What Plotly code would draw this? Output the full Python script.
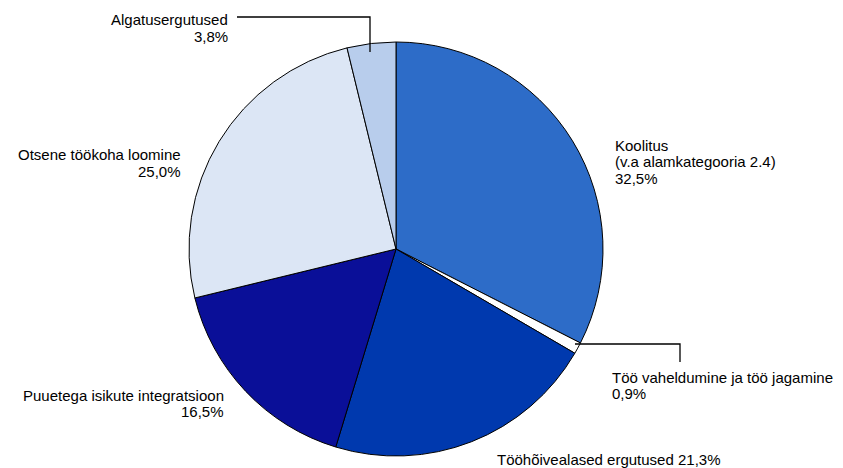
import plotly.graph_objects as go

W, H = 843, 468

categories = ["Koolitus<br>(v.a alamkategooria 2.4)", "Töö vaheldumine ja töö jagamine",
              "Tööhõivealased ergutused", "Puuetega isikute integratsioon",
              "Otsene töökoha loomine", "Algatusergutused"]
values = [32.5, 0.9, 21.3, 16.5, 25.0, 3.8]
colors = ["#2D6CC8", "#FFFFFF", "#0039AE", "#0A0F98", "#DCE6F5", "#B8CDEC"]

def px(x):
    return x / W

def py(y):
    return 1 - y / H

cx, cy, r = 396, 249, 207

fig = go.Figure(go.Pie(
    labels=categories, values=values, sort=False, direction="clockwise", rotation=0,
    marker=dict(colors=colors, line=dict(color="#000000", width=1)),
    textinfo="none", hoverinfo="label+percent", showlegend=False,
    domain=dict(x=[px(cx - r), px(cx + r)], y=[py(cy + r), py(cy - r)]),
))

def fmt(v):
    return f"{v:.1f}".replace(".", ",") + "%"

# label placements (pixel): x, first-line y, anchor, lines
label_pos = [
    (613, 145, "left", categories[0].split("<br>") + [fmt(values[0])]),
    (610, 377, "left", [categories[1], fmt(values[1])]),
    (495, 459, "left", [f"{categories[2]} {fmt(values[2])}"]),
    (226, 395, "right", [categories[3], fmt(values[3])]),
    (183, 155, "right", [categories[4], fmt(values[4])]),
    (230, 20, "right", [categories[5], fmt(values[5])]),
]
line_gap = 16.5

annotations = []
for x, y, anc, lines in label_pos:
    for i, ln in enumerate(lines):
        annotations.append(dict(
            x=px(x), y=py(y + i * line_gap), xref="paper", yref="paper", text=ln,
            showarrow=False, xanchor=anc, yanchor="middle", align=anc,
            font=dict(family="Liberation Sans, Arial, Helvetica, sans-serif", size=15, color="#000000"),
        ))

def path(points):
    return "M " + " L ".join(f"{px(a)},{py(b)}" for a, b in points)

shapes = [
    dict(type="path", xref="paper", yref="paper", path=path([(237, 17), (370, 17), (370, 52)]),
         line=dict(color="#000000", width=1.3)),
    dict(type="path", xref="paper", yref="paper", path=path([(575, 344), (680, 344), (680, 362)]),
         line=dict(color="#000000", width=1.3)),
]

fig.update_layout(
    width=W, height=H, margin=dict(l=0, r=0, t=0, b=0),
    paper_bgcolor="#FFFFFF", plot_bgcolor="#FFFFFF",
    annotations=annotations, shapes=shapes,
)

fig.write_html("out.html", config={"displayModeBar": False},
               post_script="document.body.style.margin='0';document.body.style.overflow='hidden';")
